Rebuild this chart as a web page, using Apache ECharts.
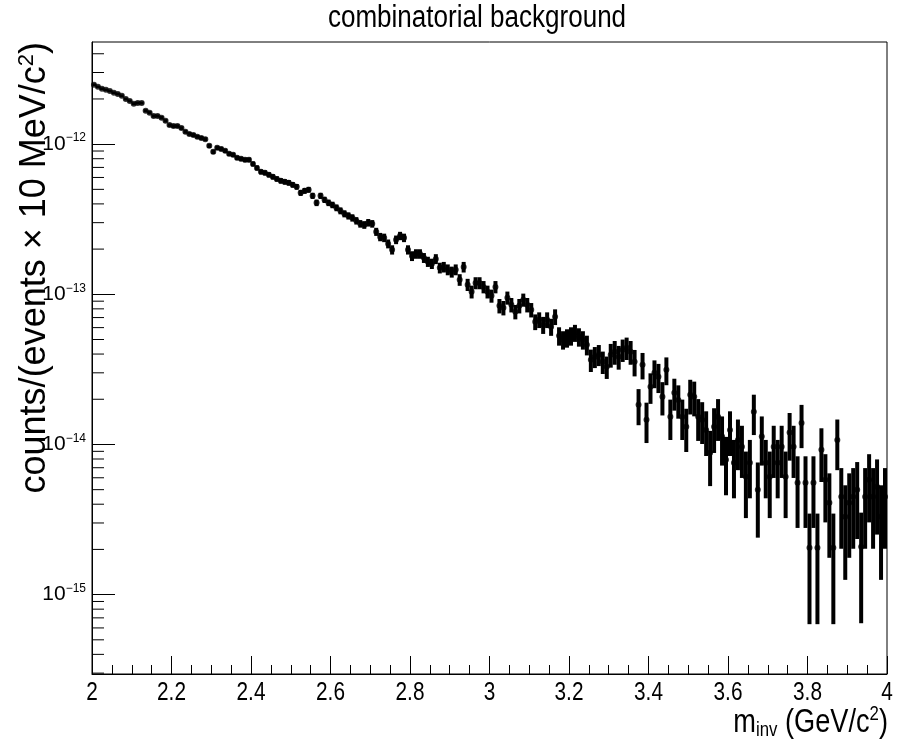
<!DOCTYPE html>
<html><head><meta charset="utf-8">
<script src="https://cdn.jsdelivr.net/npm/echarts@6/dist/echarts.min.js"></script>
<style>html,body{margin:0;padding:0;background:#fff}#c{width:901px;height:752px}</style>
</head><body><div id="c"></div>
<script>
// ---- data (histogram: 200 bins of 10 MeV from 2.0 to 4.0 GeV/c^2) ----
const xMin = 2.0, xMax = 4.0, binWidth = 0.01;
const titleText = 'combinatorial background';
const xTickValues = [2, 2.2, 2.4, 2.6, 2.8, 3, 3.2, 3.4, 3.6, 3.8, 4];
const xTickLabels = ['2', '2.2', '2.4', '2.6', '2.8', '3', '3.2', '3.4', '3.6', '3.8', '4'];
const yDecades = [-15, -14, -13, -12];
const yMinorMantissas = [2, 3, 4, 5, 6, 7, 8, 9];
const yRange = [2.96e-16, 4.79e-12];

const counts = [
2.49e-12, 2.41e-12, 2.34e-12, 2.30e-12, 2.26e-12, 2.20e-12, 2.16e-12, 2.10e-12, 2.00e-12, 1.94e-12,
1.86e-12, 1.88e-12, 1.88e-12, 1.67e-12, 1.62e-12, 1.54e-12, 1.54e-12, 1.50e-12, 1.43e-12, 1.34e-12,
1.32e-12, 1.32e-12, 1.28e-12, 1.21e-12, 1.17e-12, 1.15e-12, 1.12e-12, 1.10e-12, 1.08e-12, 9.74e-13,
8.89e-13, 9.45e-13, 9.30e-13, 9.03e-13, 8.62e-13, 8.49e-13, 8.11e-13, 7.98e-13, 7.86e-13, 7.86e-13,
7.39e-13, 6.95e-13, 6.54e-13, 6.44e-13, 6.25e-13, 6.06e-13, 5.87e-13, 5.70e-13, 5.61e-13, 5.53e-13,
5.36e-13, 5.20e-13, 4.74e-13, 4.89e-13, 4.97e-13, 4.53e-13, 4.07e-13, 4.53e-13, 4.26e-13, 4.07e-13,
3.94e-13, 3.77e-13, 3.60e-13, 3.44e-13, 3.33e-13, 3.23e-13, 3.09e-13, 2.95e-13, 2.90e-13, 3.00e-13,
2.95e-13, 2.61e-13, 2.41e-13, 2.38e-13, 2.17e-13, 1.98e-13, 2.31e-13, 2.45e-13, 2.38e-13, 1.98e-13,
1.80e-13, 1.86e-13, 1.86e-13, 1.75e-13, 1.65e-13, 1.60e-13, 1.72e-13, 1.50e-13, 1.52e-13, 1.46e-13,
1.41e-13, 1.46e-13, 1.25e-13, 1.52e-13, 1.16e-13, 1.04e-13, 1.19e-13, 1.19e-13, 1.12e-13, 1.04e-13,
9.77e-14, 1.12e-13, 8.38e-14, 8.13e-14, 9.48e-14, 8.51e-14, 7.65e-14, 8.38e-14, 9.19e-14, 8.51e-14,
7.88e-14, 6.56e-14, 6.77e-14, 6.26e-14, 6.77e-14, 6.08e-14, 7.09e-14, 5.29e-14, 4.98e-14, 5.13e-14,
5.29e-14, 5.54e-14, 5.21e-14, 4.98e-14, 4.61e-14, 3.66e-14, 3.84e-14, 3.96e-14, 3.55e-14, 3.29e-14,
3.96e-14, 4.14e-14, 3.84e-14, 4.27e-14, 4.40e-14, 4.14e-14, 3.55e-14, 1.84e-14, 3.39e-14, 1.46e-14,
2.42e-14, 3.00e-14, 2.82e-14, 2.08e-14, 3.14e-14, 1.53e-14, 2.21e-14, 1.98e-14, 1.53e-14, 1.31e-14,
2.14e-14, 2.08e-14, 1.53e-14, 1.46e-14, 1.25e-14, 8.80e-15, 1.31e-14, 1.53e-14, 1.13e-14, 7.91e-15,
1.25e-14, 7.55e-15, 1.07e-14, 9.65e-15, 6.10e-15, 7.55e-15, 1.65e-14, 4.99e-15, 1.13e-14, 7.55e-15,
6.10e-15, 9.65e-15, 7.55e-15, 9.65e-15, 6.10e-15, 1.20e-14, 9.65e-15, 5.56e-15, 1.39e-14, 5.56e-15,
2.05e-15, 5.56e-15, 2.05e-15, 9.22e-15, 5.82e-15, 4.09e-15, 2.05e-15, 1.07e-14, 4.49e-15, 3.30e-15,
4.09e-15, 4.49e-15, 4.99e-15, 2.08e-15, 4.49e-15, 5.82e-15, 4.49e-15, 5.23e-15, 3.30e-15, 4.49e-15
];

// relative errors (error / content) per bin
const relErr = [
0.020,0.020,0.021,0.021,0.021,0.021,0.022,0.022,0.022,0.023,
0.023,0.023,0.023,0.024,0.025,0.025,0.025,0.026,0.026,0.027,
0.028,0.028,0.028,0.029,0.029,0.030,0.030,0.030,0.030,0.032,
0.034,0.033,0.033,0.033,0.034,0.034,0.035,0.035,0.036,0.036,
0.037,0.038,0.039,0.039,0.040,0.041,0.041,0.042,0.042,0.043,
0.043,0.044,0.046,0.045,0.045,0.047,0.050,0.047,0.048,0.050,
0.050,0.052,0.053,0.054,0.055,0.056,0.057,0.058,0.059,0.058,
0.058,0.062,0.064,0.065,0.068,0.071,0.066,0.064,0.065,0.071,
0.075,0.073,0.073,0.076,0.078,0.079,0.076,0.082,0.081,0.083,
0.084,0.083,0.089,0.081,0.093,0.098,0.092,0.092,0.094,0.098,
0.10,0.094,0.11,0.11,0.10,0.11,0.11,0.11,0.10,0.11,
0.11,0.12,0.12,0.13,0.12,0.13,0.12,0.14,0.14,0.14,
0.14,0.13,0.14,0.14,0.15,0.17,0.16,0.16,0.17,0.17,
0.18,0.18,0.18,0.17,0.17,0.18,0.20,0.27,0.20,0.30,
0.23,0.21,0.22,0.25,0.21,0.30,0.24,0.25,0.30,0.32,
0.26,0.26,0.31,0.31,0.33,0.40,0.33,0.31,0.36,0.42,
0.33,0.42,0.37,0.38,0.47,0.42,0.30,0.52,0.36,0.42,
0.47,0.38,0.42,0.38,0.47,0.35,0.38,0.50,0.32,0.50,
0.69,0.50,0.69,0.39,0.48,0.57,0.69,0.37,0.55,0.62,
0.57,0.55,0.53,0.69,0.55,0.48,0.55,0.52,0.62,0.55
];

// ---- build series data ----
const centers = counts.map((_, i) => +(xMin + (i + 0.5) * binWidth).toFixed(4));
const points = counts.map((v, i) => [centers[i], v]);
const bars = counts.map((v, i) => [centers[i], Math.max(v * (1 - relErr[i]), yRange[0]), v * (1 + relErr[i])]);
const minorTicks = [];
yDecades.concat([-16]).forEach(d => yMinorMantissas.forEach(m => {
  const v = m * Math.pow(10, d);
  if (v > yRange[0] && v < yRange[1]) minorTicks.push([xMin, v]);
}));
const xLabelData = xTickValues.map((v, i) => [v, yRange[0], xTickLabels[i]]);

const SANS = "'Liberation Sans',Arial,Helvetica,sans-serif";
const NX = 0.8; // horizontal condensing of the Helvetica-like text

const chart = echarts.init(document.getElementById('c'), null, {renderer: 'canvas'});
chart.setOption({
  animation: false,
  backgroundColor: '#fff',
  grid: {left: 92, right: 14, top: 42, bottom: 78, show: true, borderColor: '#000', borderWidth: 1, backgroundColor: 'transparent'},
  xAxis: {
    type: 'value', min: xMin, max: xMax, interval: 0.2,
    axisLine: {show: true, onZero: false, lineStyle: {color: '#000', width: 1}},
    axisTick: {show: true, inside: true, length: 18, lineStyle: {color: '#000', width: 1}},
    minorTick: {show: true, splitNumber: 4, length: 9, lineStyle: {color: '#000', width: 1}},
    splitLine: {show: false},
    axisLabel: {show: false}
  },
  yAxis: {
    type: 'log', logBase: 10, min: yRange[0], max: yRange[1],
    axisLine: {show: true, lineStyle: {color: '#000', width: 1}},
    axisTick: {show: true, inside: true, length: 23, lineStyle: {color: '#000', width: 1}},
    splitLine: {show: false},
    axisLabel: {
      showMinLabel: false, showMaxLabel: false, margin: 6, color: '#000',
      formatter: v => {
        const e = Math.round(Math.log10(v));
        if (Math.abs(Math.log10(v) - e) > 1e-6) return '';
        return '{b|10}{s|' + (e < 0 ? '\u2212' + (-e) : e) + '}';
      },
      rich: {
        b: {fontFamily: SANS, fontSize: 21, color: '#000'},
        s: {fontFamily: SANS, fontSize: 12, color: '#000', padding: [0, 0, 12, 0]}
      }
    }
  },
  graphic: [
    {type: 'text', x: 477, y: 3, scaleX: 0.84, style: {text: titleText, fontFamily: SANS, fontSize: 31, fill: '#000', align: 'center', verticalAlign: 'top'}},
    {type: 'text', x: 888, y: 704, scaleX: 0.8, style: {
      text: '{m|m}{sub|inv}{m| (GeV/c}{sup|2}{m|)}', align: 'right', verticalAlign: 'top',
      rich: {
        m: {fontFamily: SANS, fontSize: 34, color: '#000'},
        sub: {fontFamily: SANS, fontSize: 21, color: '#000', padding: [16, 0, 0, 0]},
        sup: {fontFamily: SANS, fontSize: 21, color: '#000', padding: [0, 0, 16, 0]}
      }}},
    {type: 'text', x: 35, y: 42, rotation: Math.PI / 2, style: {
      text: '{m|counts/(events \u00d7 10 MeV/c}{sup|2}{m|)}', align: 'right', verticalAlign: 'middle',
      rich: {
        m: {fontFamily: SANS, fontSize: 36, color: '#000'},
        sup: {fontFamily: SANS, fontSize: 22, color: '#000', padding: [0, 0, 17, 0]}
      }}}
  ],
  series: [
    {type: 'custom', name: 'xLabels', silent: true, clip: false, z: 3,
      renderItem: (params, api) => {
        const p = api.coord([api.value(0), api.value(1)]);
        return {type: 'text', x: p[0], y: p[1] + 6, scaleX: NX,
          style: {text: xLabelData[params.dataIndex][2], fontFamily: SANS, fontSize: 26, fill: '#000', align: 'center', verticalAlign: 'top'}};
      },
      data: xLabelData},
    {type: 'custom', name: 'minorTicks', silent: true, z: 3,
      renderItem: (params, api) => {
        const p = api.coord([api.value(0), api.value(1)]);
        return {type: 'line', shape: {x1: p[0], y1: p[1], x2: p[0] + 12, y2: p[1]}, style: {stroke: '#000', lineWidth: 1}};
      },
      data: minorTicks},
    {type: 'custom', name: 'errors', silent: true, z: 4, clip: true,
      renderItem: (params, api) => {
        const x = api.value(0);
        const p1 = api.coord([x, api.value(1)]);
        const p2 = api.coord([x, api.value(2)]);
        return {type: 'line', shape: {x1: p1[0], y1: p1[1], x2: p2[0], y2: p2[1]}, style: {stroke: '#000', lineWidth: 4}};
      },
      data: bars},
    {type: 'scatter', name: 'combinatorial background', symbol: 'circle', symbolSize: 6, z: 5,
      itemStyle: {color: '#000'}, data: points}
  ]
});
</script></body></html>
